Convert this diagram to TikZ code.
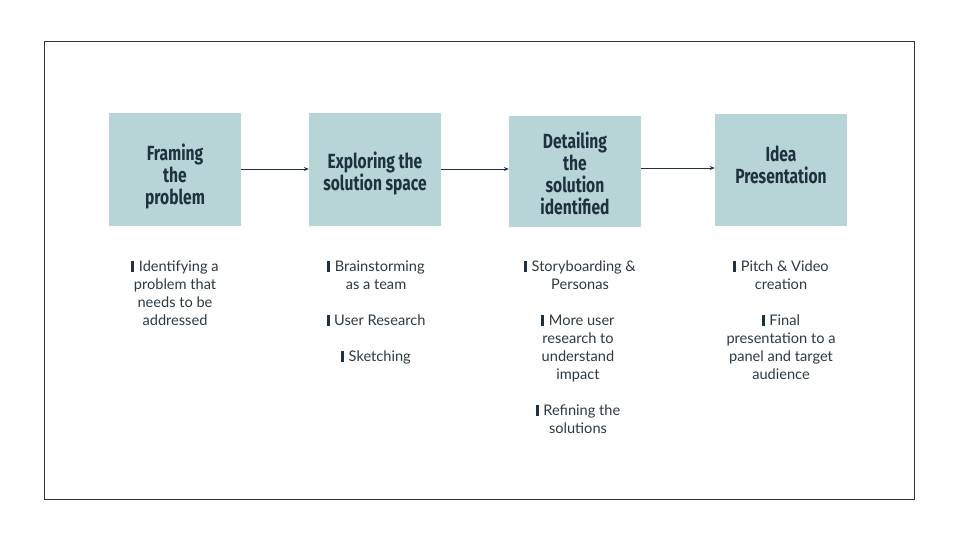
\documentclass[tikz,border=0pt]{standalone}
\usepackage{fontspec}
\usetikzlibrary{arrows.meta}
\newfontfamily\titlefont[FakeStretch=0.76]{Fira Sans}
\newfontfamily\bodyfont{Lato}
\definecolor{boxfill}{HTML}{B7D5D6}
\definecolor{ink}{HTML}{1E3140}
\definecolor{bodyink}{HTML}{2C3A44}
\newcommand\itembar{\textcolor{ink}{\rule[-0.5pt]{3pt}{10.5pt}}\hspace{4.5pt}}
\begin{document}
\begin{tikzpicture}[x=1pt,y=-1pt,
  stagebox/.style={fill=boxfill, draw=none, minimum width=132pt, minimum height=112pt, inner sep=0pt},
  stagetitle/.style={font=\titlefont\bfseries\fontsize{20.5}{22}\selectfont, text=ink, align=center, inner sep=0pt},
  itemtext/.style={font=\bodyfont\fontsize{14.6}{18}\selectfont, text=bodyink, align=center, inner sep=0pt, anchor=north},
  flow/.style={draw=ink, line width=0.8pt, -{Stealth[length=5pt,width=4pt]}}]
\useasboundingbox (0,0) rectangle (960,540);
\node[draw=black!80, line width=0.8pt, minimum width=870pt, minimum height=458pt, inner sep=0pt] (frame) at (479,270) {};

\node[stagebox] (b1) at (175,169.5) {};
\node[stagebox] (b2) at (375,169.5) {};
\node[stagebox, minimum height=111pt] (b3) at (575,171.5) {};
\node[stagebox] (b4) at (781,170) {};

\node[stagetitle] (t1) at (175,176) {Framing\\the\\problem};
\node[stagetitle] (t2) at (375,173) {Exploring the\\solution space};
\node[stagetitle] (t3) at (575,173) {Detailing\\the\\solution\\identified};
\node[stagetitle] (t4) at (781,165) {Idea\\Presentation};

\draw[flow] (b1.east |- 0,169) -- (b2.west |- 0,169);
\draw[flow] (b2.east |- 0,169) -- (b3.west |- 0,169);
\draw[flow] (b3.east |- 0,168) -- (b4.west |- 0,168);

\node[itemtext] (i11) at (175,260.5) {\itembar Identifying a\\problem that\\needs to be\\addressed};

\node[itemtext] (i21) at (376,260.5) {\itembar Brainstorming\\as a team};
\node[itemtext] (i22) at (376,314.5) {\itembar User Research};
\node[itemtext] (i23) at (376,350.5) {\itembar Sketching};

\node[itemtext] (i31) at (580,260.5) {\itembar Storyboarding \&\\Personas};
\node[itemtext] (i32) at (578,314.5) {\itembar More user\\research to\\understand\\impact};
\node[itemtext] (i33) at (578,404.5) {\itembar Refining the\\solutions};

\node[itemtext] (i41) at (781,260.5) {\itembar Pitch \& Video\\creation};
\node[itemtext] (i42) at (781,314.5) {\itembar Final\\presentation to a\\panel and target\\audience};
\end{tikzpicture}
\end{document}
